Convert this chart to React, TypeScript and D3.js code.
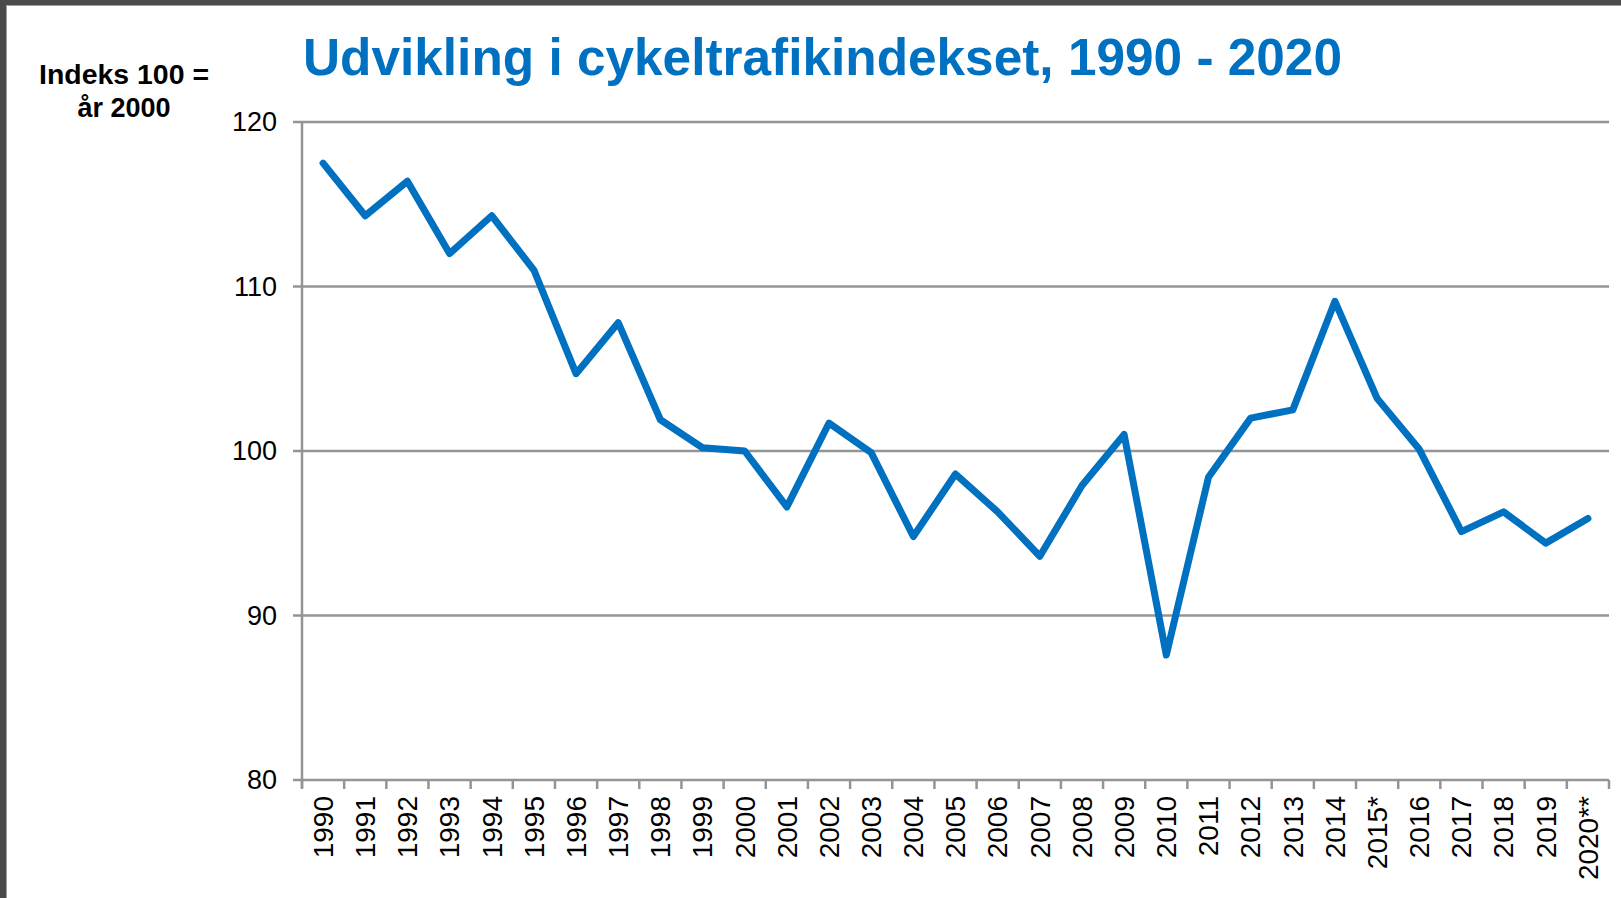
import React from "react";
import * as d3 from "d3";

const years = ["1990","1991","1992","1993","1994","1995","1996","1997","1998","1999","2000","2001","2002","2003","2004","2005","2006","2007","2008","2009","2010","2011","2012","2013","2014","2015*","2016","2017","2018","2019","2020**"];
const indexValues = [117.5,114.3,116.4,112.0,114.3,111.0,104.7,107.8,101.9,100.2,100.0,96.6,101.7,99.9,94.8,98.6,96.3,93.6,97.9,101.0,87.6,98.4,102.0,102.5,109.1,103.2,100.1,95.1,96.3,94.4,95.9];
const yTicks = [80, 90, 100, 110, 120];

const W = 1621, H = 898;
const left = 302, right = 1609, top = 122, bottom = 780;
const FONT = "'Liberation Sans', Arial, sans-serif";

export default function App() {
  const x = d3.scaleBand<string>().domain(years).range([left, right]).paddingInner(0).paddingOuter(0);
  const y = d3.scaleLinear().domain([80, 120]).range([bottom, top]);
  const line = d3.line<number>()
    .x((_, i) => (x(years[i]) as number) + x.bandwidth() / 2)
    .y(d => y(d));
  const boundaries = years.map(c => x(c) as number).concat([right]);
  return (
    <div style={{ position: "absolute", left: 0, top: 0, width: W, height: H }}>
      <svg width={W} height={H} style={{ display: "block" }}>
        <rect x={0} y={0} width={W} height={H} fill="#4a4a4a" />
        <rect x={6} y={5} width={W - 6} height={H - 5} fill="#a0a0a0" />
        <rect x={7} y={6} width={W - 7} height={H - 6} fill="#ffffff" />
        <text x={303} y={75} fontFamily={FONT} fontWeight="bold" fontSize={52} fill="#0070C0"
          textLength={1039} lengthAdjust="spacingAndGlyphs">Udvikling i cykeltrafikindekset, 1990 - 2020</text>
        <text x={124} y={84} textAnchor="middle" fontFamily={FONT} fontWeight="bold" fontSize={27} fill="#000"
          textLength={170} lengthAdjust="spacingAndGlyphs">Indeks 100 =</text>
        <text x={124} y={117} textAnchor="middle" fontFamily={FONT} fontWeight="bold" fontSize={27} fill="#000">år 2000</text>
        {yTicks.map(t => (
          <g key={t}>
            <line x1={293} x2={right} y1={y(t)} y2={y(t)} stroke="#949494" strokeWidth={2.5} />
            <text x={277} y={y(t)} dy="0.35em" textAnchor="end" fontFamily={FONT} fontSize={27} fill="#000">{t}</text>
          </g>
        ))}
        <line x1={left} x2={left} y1={top} y2={bottom + 8} stroke="#949494" strokeWidth={2.5} />
        {boundaries.map((b, i) => (
          <line key={i} x1={b} x2={b} y1={bottom} y2={bottom + 9} stroke="#949494" strokeWidth={2.5} />
        ))}
        {years.map(c => {
          const cx = (x(c) as number) + x.bandwidth() / 2;
          return (
            <text key={c} transform={`translate(${cx},${bottom + 16}) rotate(-90)`} textAnchor="end" dy="0.35em"
              fontFamily={FONT} fontSize={28} fill="#000">{c}</text>
          );
        })}
        <path d={line(indexValues) as string} fill="none" stroke="#0070C0" strokeWidth={7} strokeLinejoin="round" strokeLinecap="round" />
      </svg>
    </div>
  );
}
